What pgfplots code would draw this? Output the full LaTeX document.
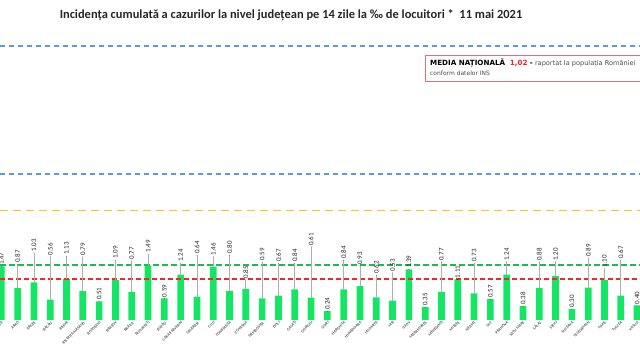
\documentclass[border=0pt]{standalone}
\usepackage{fontspec}
\setmainfont{Carlito}
\newfontfamily\boxfont{DejaVu Sans}
\usepackage{pgfplots}
\pgfplotsset{compat=1.18}
\usepackage{pgfplotstable}

\definecolor{barg}{RGB}{20,230,100}
\definecolor{hlgreen}{RGB}{30,185,85}
\definecolor{hlred}{RGB}{240,40,40}
\definecolor{hlyellow}{RGB}{250,195,30}
\definecolor{hlblue}{RGB}{95,155,215}
\definecolor{boxred}{RGB}{235,110,110}
\definecolor{numred}{RGB}{235,35,45}
\definecolor{leader}{RGB}{175,175,175}

\pgfplotstableread{
x v ly
0 1.47 1.47
1 0.87 1.53
2 1.03 1.84
3 0.56 1.73
4 1.13 1.75
5 0.79 1.73
6 0.51 0.51
7 1.09 1.64
8 0.77 1.62
9 1.49 1.81
10 0.59 0.59
11 1.24 1.56
12 0.64 1.78
13 1.46 1.73
14 0.80 1.78
15 0.85 1.10
16 0.59 1.59
17 0.67 1.56
18 0.84 1.56
19 0.61 2.00
20 0.24 0.24
21 0.84 1.64
22 0.93 1.48
23 0.62 1.23
24 0.53 1.29
25 1.39 1.39
26 0.35 0.35
27 0.77 1.59
28 1.11 1.11
29 0.73 1.56
30 0.57 0.57
31 1.24 1.59
32 0.38 0.38
33 0.88 1.59
34 1.20 1.59
35 0.30 0.30
36 0.89 1.70
37 1.10 1.40
38 0.67 1.64
39 0.40 0.40
}\data

\begin{document}
\begin{tikzpicture}
\begin{axis}[
  scale only axis,
  width=640bp, height=320bp,
  xmin=-0.08, xmax=39.18,
  ymin=0, ymax=8.767,
  axis line style={draw=none},
  tick style={draw=none},
  ytick=\empty,
  xtick=data,
  xticklabels={ALBA,ARAD,ARGEȘ,BACĂU,BIHOR,BISTRIȚA-NĂSĂUD,BOTOȘANI,BRAȘOV,BRĂILA,BUCUREȘTI,BUZĂU,CARAȘ-SEVERIN,CĂLĂRAȘI,CLUJ,CONSTANȚA,COVASNA,DÂMBOVIȚA,DOLJ,GALAȚI,GIURGIU,GORJ,HARGHITA,HUNEDOARA,IALOMIȚA,IAȘI,ILFOV,MARAMUREȘ,MEHEDINȚI,MUREȘ,NEAMȚ,OLT,PRAHOVA,SATU MARE,SĂLAJ,SIBIU,SUCEAVA,TELEORMAN,TIMIȘ,TULCEA,VASLUI},
  xticklabel style={rotate=45, anchor=north east, inner sep=0.5bp, font=\fontsize{4}{4}\selectfont\bfseries, text=black!65},
  /pgf/number format/assume math mode=true,
  unbounded coords=jump,
  clip=false,
]
\addplot[ybar, bar width=6.7bp, bar shift=0pt, fill=barg, draw=none] table[x=x,y=v]{\data};
\addplot[hlgreen, line width=2bp, dash pattern=on 6bp off 3bp, mark=none] coordinates {(-0.08,1.5) (39.18,1.5)};
\addplot[hlred, line width=2bp, dash pattern=on 5bp off 3bp, mark=none] coordinates {(-0.08,1.115) (39.18,1.115)};
\addplot[draw=leader, line width=0.7bp, solid, mark=none] coordinates {
(1,0.87)(1,1.53)(1,nan)
(2,1.03)(2,1.84)(2,nan)
(3,0.56)(3,1.73)(3,nan)
(4,1.13)(4,1.75)(4,nan)
(5,0.79)(5,1.73)(5,nan)
(7,1.09)(7,1.64)(7,nan)
(8,0.77)(8,1.62)(8,nan)
(9,1.49)(9,1.81)(9,nan)
(11,1.24)(11,1.56)(11,nan)
(12,0.64)(12,1.78)(12,nan)
(13,1.46)(13,1.73)(13,nan)
(14,0.80)(14,1.78)(14,nan)
(15,0.85)(15,1.10)(15,nan)
(16,0.59)(16,1.59)(16,nan)
(17,0.67)(17,1.56)(17,nan)
(18,0.84)(18,1.56)(18,nan)
(19,0.61)(19,2.00)(19,nan)
(21,0.84)(21,1.64)(21,nan)
(22,0.93)(22,1.48)(22,nan)
(23,0.62)(23,1.23)(23,nan)
(24,0.53)(24,1.29)(24,nan)
(27,0.77)(27,1.59)(27,nan)
(29,0.73)(29,1.56)(29,nan)
(31,1.24)(31,1.59)(31,nan)
(33,0.88)(33,1.59)(33,nan)
(34,1.20)(34,1.59)(34,nan)
(36,0.89)(36,1.70)(36,nan)
(37,1.10)(37,1.40)(37,nan)
(38,0.67)(38,1.64)
};
\addplot[only marks, mark=*, mark size=0.01pt, mark options={draw=none, fill=none},
  point meta=explicit,
  nodes near coords={\pgfmathprintnumber[fixed,fixed zerofill,precision=2]{\pgfplotspointmeta}},
  every node near coord/.append style={rotate=90, anchor=west, inner sep=1.2bp, font=\fontsize{7}{7}\selectfont, text=black!85}]
  table[x=x, y=ly, meta=v]{\data};
\addplot[hlyellow, line width=1.6bp, dash pattern=on 8bp off 5bp, mark=none] coordinates {(-0.08,3.0) (39.18,3.0)};
\addplot[hlblue, line width=1.6bp, dash pattern=on 5bp off 4bp, mark=none] coordinates {(-0.08,4.0) (39.18,4.0)};
\addplot[hlblue, line width=1.6bp, dash pattern=on 5bp off 4bp, mark=none] coordinates {(-0.08,7.5) (39.18,7.5)};
\end{axis}
\node[font=\fontsize{12.5}{14}\selectfont\bfseries, text=black!85, inner sep=0] at (291bp,305bp) {Incidența cumulată a cazurilor la nivel județean pe 14 zile la ‰ de locuitori *\ \ 11 mai 2021};
\draw[boxred, line width=0.8bp, fill=white] (425bp,239bp) rectangle (720bp,265bp);
\node[anchor=base west, inner sep=0] at (430bp,254.3bp) {\boxfont\fontsize{7.2}{9}\selectfont\textbf{MEDIA NAȚIONALĂ}\ \ \textcolor{numred}{\textbf{1,02}} \textbf{-} \fontsize{6.6}{7}\selectfont\color{black!70}raportat la populația României};
\node[anchor=base west, inner sep=0] at (430bp,244.3bp) {\boxfont\fontsize{6}{7}\selectfont\color{black!70}conform datelor INS};
\pgfresetboundingbox
\path[use as bounding box] (0,-39bp) rectangle (640bp,320bp);
\end{tikzpicture}
\end{document}
